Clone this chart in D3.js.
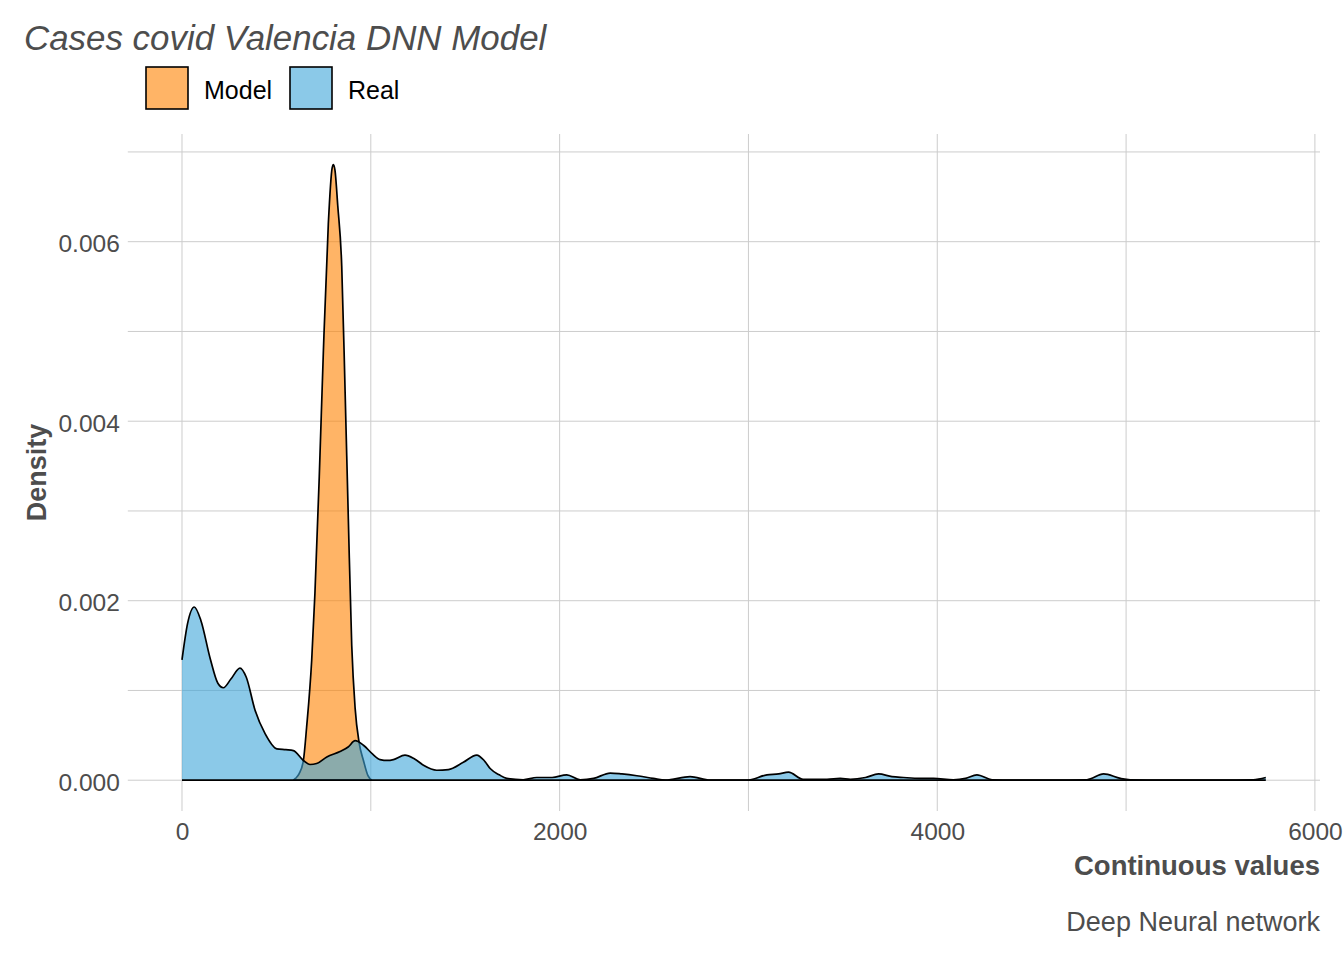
<!DOCTYPE html>
<html>
<head>
<meta charset="utf-8">
<script src="https://cdn.jsdelivr.net/npm/d3@7"></script>
<style>
  body { margin: 0; background: #fff; }
  text { font-family: "Liberation Sans", Arial, sans-serif; }
</style>
</head>
<body>
<svg id="chart" width="1344" height="960"></svg>
<script>
// density estimates
const realX = [0, 30, 65, 100, 150, 190, 219, 260, 307, 340, 387, 440, 502, 550, 590, 643, 678, 713, 767, 837, 880, 917, 961, 1010, 1049, 1090, 1120, 1181, 1230, 1279, 1349, 1411, 1490, 1561, 1600, 1632, 1680, 1720, 1807, 1879, 1960, 2038, 2109, 2180, 2268, 2330, 2409, 2496, 2560, 2691, 2797, 2900, 2992, 3098, 3160, 3212, 3290, 3416, 3486, 3540, 3620, 3689, 3760, 3821, 3910, 3980, 4085, 4150, 4210, 4290, 4400, 4600, 4793, 4881, 4970, 5022, 5200, 5500, 5674, 5740];
const realY = [0.00134, 0.00175, 0.00193, 0.00178, 0.00135, 0.00108, 0.00103, 0.00113, 0.00125, 0.00115, 0.00078, 0.00052, 0.00035, 0.00034, 0.00033, 0.00022, 0.000175, 0.000186, 0.00026, 0.00032, 0.00037, 0.00044, 0.00039, 0.00029, 0.00023, 0.00022, 0.00023, 0.00028, 0.00024, 0.000167, 0.000111, 0.000119, 0.0002, 0.00028, 0.00022, 0.00013, 0.00006, 0.00002, 0.000005, 0.00003, 0.00003, 0.00006, 0.000005, 0.00002, 0.00008, 0.00007, 0.00005, 0.00002, 0, 0.00004, 0, 0, 0, 0.00006, 0.00007, 0.00009, 0.00001, 0.00001, 0.00002, 0.00001, 0.00003, 0.00007, 0.00004, 0.00003, 0.00002, 0.00002, 0.000005, 0.00002, 0.00006, 0.000005, 0, 0, 0.000005, 0.00007, 0.00002, 0.000005, 0, 0, 0.000005, 0.00003];

const modelX = [590, 601, 620, 643, 660, 687, 704, 727, 749, 775, 795, 802, 810, 825, 846, 864, 881, 899, 917, 938, 961, 985, 1005];
const modelY = [0, 0.00002, 0.00007, 0.00022, 0.00059, 0.00134, 0.00208, 0.00338, 0.00479, 0.0062, 0.00682, 0.00686, 0.0068, 0.0064, 0.00573, 0.00432, 0.00291, 0.0015, 0.0008, 0.00042, 0.00022, 0.00005, 0];

const xTicks = [0, 2000, 4000, 6000];
const xMinor = [1000, 3000, 5000];
const yTicks = [0, 0.002, 0.004, 0.006];
const yMinor = [0.001, 0.003, 0.005, 0.007];

const seriesNames = ['Model', 'Real'];
const fills = ['#ff8200', '#3ea5d9'];

const svg = d3.select('#chart');
const pLeft = 127.8, pRight = 1320, pTop = 134, pBottom = 811;

const x = d3.scaleLinear().domain([-287, 6027]).range([pLeft, pRight]);
const y = d3.scaleLinear().domain([-0.000343, 0.0072]).range([pBottom, pTop]);

// grid
const grid = svg.append('g');
grid.selectAll('.vx').data(xMinor.concat(xTicks)).enter().append('line')
  .attr('x1', d => x(d)).attr('x2', d => x(d))
  .attr('y1', pTop).attr('y2', pBottom)
  .attr('stroke', '#cccccc').attr('stroke-width', 1);
grid.selectAll('.hy').data(yMinor.concat(yTicks)).enter().append('line')
  .attr('y1', d => y(d)).attr('y2', d => y(d))
  .attr('x1', pLeft).attr('x2', pRight)
  .attr('stroke', '#cccccc').attr('stroke-width', 1);

// densities
const series = [
  { xs: modelX, ys: modelY, fill: fills[0] },
  { xs: realX, ys: realY, fill: fills[1] }
];

series.forEach(s => {
  const pts = s.xs.map((v, i) => [v, s.ys[i]]);
  const area = d3.area()
    .x(d => x(d[0])).y0(y(0)).y1(d => y(d[1]))
    .curve(d3.curveMonotoneX);
  const line = d3.line()
    .x(d => x(d[0])).y(d => y(d[1]))
    .curve(d3.curveMonotoneX);
  svg.append('path').attr('d', area(pts))
    .attr('fill', s.fill).attr('fill-opacity', 0.6);
  svg.append('path').attr('d', line(pts))
    .attr('fill', 'none').attr('stroke', '#000').attr('stroke-width', 1.7);
  svg.append('line')
    .attr('x1', x(s.xs[0])).attr('x2', x(s.xs[s.xs.length - 1]))
    .attr('y1', y(0)).attr('y2', y(0))
    .attr('stroke', '#000').attr('stroke-width', 1.7);
});

// axes
const xAxis = svg.append('g')
  .attr('transform', `translate(0,${pBottom})`)
  .call(d3.axisBottom(x).tickValues(xTicks).tickSize(0).tickPadding(12).tickFormat(d3.format('d')));
const yAxis = svg.append('g')
  .attr('transform', `translate(${pLeft},0)`)
  .call(d3.axisLeft(y).tickValues(yTicks).tickSize(0).tickPadding(8).tickFormat(d3.format('.3f')));
yAxis.selectAll('text').attr('dy', '0.4em');
[xAxis, yAxis].forEach(a => {
  a.select('.domain').remove();
  a.selectAll('text').attr('fill', '#4d4d4d')
    .style('font-size', '24.5px')
    .style('font-family', '"Liberation Sans", Arial, sans-serif');
});

// titles
svg.append('text').attr('x', 24).attr('y', 50)
  .attr('fill', '#4d4d4d').style('font-size', '34.9px').style('font-style', 'italic')
  .text('Cases covid Valencia DNN Model');

svg.append('text').attr('x', 1320).attr('y', 875)
  .attr('text-anchor', 'end').attr('fill', '#4d4d4d')
  .style('font-size', '27.5px').style('font-weight', 'bold')
  .text('Continuous values');

svg.append('text').attr('x', 1320).attr('y', 931)
  .attr('text-anchor', 'end').attr('fill', '#4d4d4d')
  .style('font-size', '27px')
  .text('Deep Neural network');

svg.append('text')
  .attr('transform', `translate(46,${(pTop + pBottom) / 2}) rotate(-90)`)
  .attr('text-anchor', 'middle').attr('fill', '#4d4d4d')
  .style('font-size', '27px').style('font-weight', 'bold')
  .text('Density');

// legend
const legendX = [146, 290];
const legend = svg.append('g');
seriesNames.forEach((name, i) => {
  legend.append('rect')
    .attr('x', legendX[i]).attr('y', 67).attr('width', 42).attr('height', 42)
    .attr('fill', fills[i]).attr('fill-opacity', 0.6)
    .attr('stroke', '#000').attr('stroke-width', 1.6);
  legend.append('text')
    .attr('x', legendX[i] + 58).attr('y', 99)
    .attr('fill', '#000').style('font-size', '25px')
    .text(name);
});
</script>
</body>
</html>
